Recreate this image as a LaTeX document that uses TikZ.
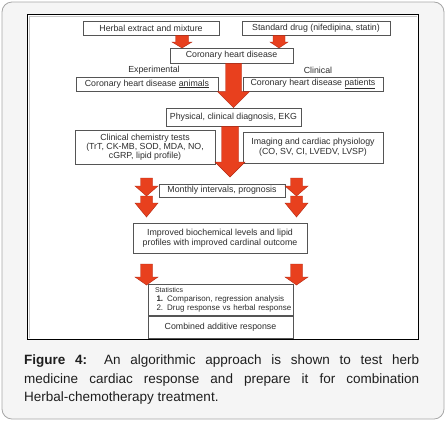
\documentclass[tikz,border=0pt]{standalone}
\usepackage{fontspec}
\setmainfont{Liberation Sans}
\usetikzlibrary{calc}
\usetikzlibrary{positioning}

\definecolor{arrowred}{RGB}{232,64,30}
\definecolor{arrowedge}{RGB}{178,40,18}
\definecolor{boxline}{RGB}{85,85,85}
\definecolor{boxtext}{RGB}{45,45,45}
\definecolor{panelgray}{RGB}{245,245,245}
\definecolor{captext}{RGB}{30,30,30}

\tikzset{
  box/.style={draw=boxline, line width=0.7pt, fill=white, inner sep=0pt, text=boxtext,
    align=center, font=\fontsize{8.8}{9.8}\selectfont},
  tag/.style={text=boxtext, inner sep=0pt, font=\fontsize{8.8}{9.8}\selectfont},
  blockarr/.style={fill=arrowred, draw=arrowedge, line width=0.4pt, line join=miter},
}

% top point, tip point, shaft half width, head half width, head length
\newcommand{\blockarrow}[5]{%
  \filldraw[blockarr] ($(#2 |- #1)+(-#3,0)$) -- ($(#2)+(-#3,-#5)$) -- ($(#2)+(-#4,-#5)$) -- (#2)
    -- ($(#2)+(#4,-#5)$) -- ($(#2)+(#3,-#5)$) -- ($(#2 |- #1)+(#3,0)$) -- cycle;}

\begin{document}
\begin{tikzpicture}[x=1pt, y=-1pt]
  \useasboundingbox (0,0) rectangle (446,421);

  % panel and frame
  \filldraw[fill=panelgray, draw=gray!70, line width=0.8pt, rounded corners=10pt] (2,2) rectangle (444,419);
  \filldraw[fill=white, draw=black, line width=1pt] (27,14) rectangle (418,339);
  \draw[gray!45, line width=1pt] (29,338) -- (29,16) -- (417,16);

  % boxes
  \node[box, minimum width=136pt, minimum height=14pt] (herbal) at (151,28) {Herbal extract and mixture};
  \node[box, minimum width=148pt, minimum height=14pt] (drug) at (316,28) {Standard drug (nifedipina, statin)};
  \node[box, minimum width=123pt, minimum height=15pt] (chd) at (231.5,55.5) {Coronary heart disease};

  \node[tag] (exper) at (154,70) {Experimental};
  \node[tag] (clin) at (318,70) {Clinical};

  \node[box, minimum width=142pt, minimum height=14pt] (animals) at (147,84) {Coronary heart disease \underline{animals}};
  \node[box, minimum width=140pt, minimum height=14pt] (patients) at (313,84) {Coronary heart disease \underline{patients}};

  \node[box, minimum width=135pt, minimum height=18pt] (phys) at (233.5,117) {Physical, clinical diagnosis, EKG};

  \node[box, minimum width=140pt, minimum height=34pt, font=\fontsize{8.8}{9.2}\selectfont] (chem) at (145,147)
    {Clinical chemistry tests\\(TrT, CK-MB, SOD, MDA, NO,\\cGRP, lipid profile)};
  \node[box, minimum width=140pt, minimum height=31pt] (imaging) at (313,147.5)
    {Imaging and cardiac physiology\\(CO, SV, CI, LVEDV, LVSP)};

  \node[box, minimum width=126pt, minimum height=13pt] (monthly) at (222,190.5) {Monthly intervals, prognosis};

  \node[box, minimum width=174pt, minimum height=30pt] (improved) at (220,238)
    {Improved biochemical levels and lipid\\profiles with improved cardinal outcome};

  \node[box, minimum height=31pt, text width=140pt, inner xsep=2.5pt, align=left,
    font=\fontsize{8}{8.8}\selectfont] (stats) at (220.5,299.5)
    {\hspace*{4.5pt}{\fontsize{7}{8}\selectfont Statistics}\\
     \hspace*{6pt}\mbox{\textbf{1.} Comparison, regression analysis}\\
     \hspace*{6pt}\mbox{2. Drug response vs herbal response}};
  \node[box, minimum width=145pt, minimum height=22pt] (combined) at (220.5,327) {Combined additive response};

  % arrows
  \coordinate (herbtip) at (182,48);
  \coordinate (drugtip) at (279,48);
  \coordinate (bigtip) at (230,177);
  \coordinate (ltop) at (146.5,178);
  \coordinate (lmid) at (146.5,196);
  \coordinate (lend) at (146.5,217);
  \coordinate (rtop) at (296.5,178);
  \coordinate (rmid) at (296.5,196);
  \coordinate (rend) at (296.5,217);
  \coordinate (llow) at (146.5,264);
  \coordinate (llowtip) at (146.5,285);
  \coordinate (rlow) at (296.5,264);
  \coordinate (rlowtip) at (296.5,285);

  \blockarrow{herbal.south}{herbtip}{6.5}{10}{6}
  \blockarrow{drug.south}{drugtip}{6}{9}{6}
  \blockarrow{chd.south}{phys.north}{8}{16}{16}
  \blockarrow{phys.south}{bigtip}{8.5}{15}{15}
  \blockarrow{ltop}{lmid}{6}{11.5}{10}
  \blockarrow{lmid}{lend}{6}{11.5}{14}
  \blockarrow{rtop}{rmid}{6}{11.5}{10}
  \blockarrow{rmid}{rend}{6}{11.5}{14}
  \blockarrow{llow}{llowtip}{6}{11.5}{8}
  \blockarrow{rlow}{rlowtip}{6}{11.5}{8}

  % caption
  \node[anchor=north west, text width=395pt, align=justify, inner sep=0pt, text=captext,
    font=\fontsize{13.5}{18.5}\selectfont] (caption) at (24,355)
    {\textbf{Figure 4:} An algorithmic approach is shown to test herb\linebreak
     medicine cardiac response and prepare it for combination\linebreak
     Herbal-chemotherapy treatment.};
\end{tikzpicture}
\end{document}
